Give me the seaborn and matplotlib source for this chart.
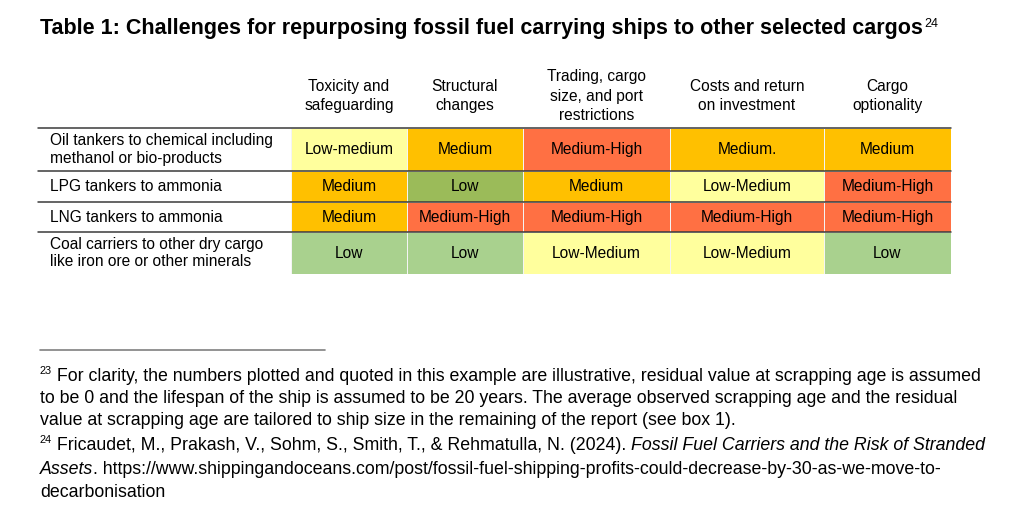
"""
Table 1 of the stranded-assets report, redrawn as a seaborn heatmap:
challenges for repurposing fossil fuel carrying ships to other cargos.
"""

import numpy as np
import seaborn as sns
import matplotlib.pyplot as plt
from matplotlib.colors import ListedColormap
from matplotlib.transforms import blended_transform_factory


TITLE = 'Table 1: Challenges for repurposing fossil fuel carrying ships to other selected cargos'
TITLE_NOTE = '24'

COLUMNS = ['Toxicity and\nsafeguarding', 'Structural\nchanges',
           'Trading, cargo\nsize, and port\nrestrictions',
           'Costs and return\non investment', 'Cargo\noptionality']
ROWS = ['Oil tankers to chemical including\nmethanol or bio-products',
        'LPG tankers to ammonia',
        'LNG tankers to ammonia',
        'Coal carriers to other dry cargo\nlike iron ore or other minerals']
RATINGS = [['Low-medium', 'Medium', 'Medium-High', 'Medium.', 'Medium'],
           ['Medium', 'Low', 'Medium', 'Low-Medium', 'Medium-High'],
           ['Medium', 'Medium-High', 'Medium-High', 'Medium-High', 'Medium-High'],
           ['Low', 'Low', 'Low-Medium', 'Low-Medium', 'Low']]
# shade of each cell: 0 dark green, 1 light green, 2 yellow, 3 amber, 4 orange
SHADES = [[2, 3, 4, 3, 3],
          [3, 0, 3, 2, 4],
          [3, 4, 4, 4, 4],
          [1, 1, 2, 2, 1]]
SHADE_COLORS = ['#9BBB59', '#A9D18E', '#FFFF9D', '#FFC000', '#FF7043']

FOOTNOTES = [
    [('23', 'sup'), (' For clarity, the numbers plotted and quoted in this example are '
                     'illustrative, residual value at scrapping age is assumed', 'normal')],
    [('to be 0 and the lifespan of the ship is assumed to be 20 years. The average '
      'observed scrapping age and the residual', 'normal')],
    [('value at scrapping age are tailored to ship size in the remaining of the '
      'report (see box 1).', 'normal')],
    [('24', 'sup'), (' Fricaudet, M., Prakash, V., Sohm, S., Smith, T., & Rehmatulla, '
                     'N. (2024). ', 'normal'),
     ('Fossil Fuel Carriers and the Risk of Stranded', 'italic')],
    [('Assets', 'italic'), ('. https://www.shippingandoceans.com/post/fossil-fuel-'
                            'shipping-profits-could-decrease-by-30-as-we-move-to-', 'normal')],
    [('decarbonisation', 'normal')],
]

W, H = 1024, 518
FONT = 'Liberation Sans'
SIZE = 11.2


def fx(px):
    return px / W


def fy(py):
    return 1 - py / H


def put_runs(fig, renderer, x, y, runs, size):
    """Writes text pieces one after another on a baseline at pixel y."""
    for text, style in runs:
        kw = dict(fontsize=size, family=FONT, va='baseline', ha='left')
        yy = y
        if style == 'sup':
            kw['fontsize'] = size * 0.62
            yy = y - 7
        elif style == 'italic':
            kw['style'] = 'italic'
        t = fig.text(fx(x), fy(yy), text, **kw)
        x += t.get_window_extent(renderer).width


def main():
    sns.set_theme(style='white')
    plt.rcParams['font.family'] = [FONT, 'DejaVu Sans']
    plt.rcParams['text.color'] = 'black'
    fig = plt.figure(figsize=(W / 100, H / 100), dpi=100)
    renderer = fig.canvas.get_renderer()

    # cell grid in pixels (columns and rows have unequal sizes)
    left, right, top, bottom = 291, 951, 128, 274
    x_edges = np.array([0, 116, 232, 379, 533, 660], dtype=float)
    y_edges = np.array([0, 43, 74, 104, 146], dtype=float)
    ax = fig.add_axes([fx(left), fy(bottom), fx(right - left),
                       (bottom - top) / H])

    sns.heatmap(np.array(SHADES), annot=np.array(RATINGS), fmt='',
                cmap=ListedColormap(SHADE_COLORS), vmin=-0.5, vmax=4.5,
                cbar=False, linewidths=0.4, linecolor='#F4F4F4',
                xticklabels=False, yticklabels=False, ax=ax,
                annot_kws={'color': 'black', 'fontsize': SIZE, 'family': FONT})

    xi = np.arange(len(x_edges), dtype=float)
    yi = np.arange(len(y_edges), dtype=float)
    ax.set_xscale('function', functions=(lambda v: np.interp(v, xi, x_edges),
                                         lambda v: np.interp(v, x_edges, xi)))
    ax.set_yscale('function', functions=(lambda v: np.interp(v, yi, y_edges),
                                         lambda v: np.interp(v, y_edges, yi)))
    ax.set_xlim(0, len(COLUMNS))
    ax.set_ylim(len(ROWS), 0)
    ax.set_xticks([])
    ax.set_yticks([])

    # row labels and row rules
    row_tr = blended_transform_factory(fig.transFigure, ax.transData)
    for i, label in enumerate(ROWS):
        ax.text(fx(50), i + 0.5, label, transform=row_tr, ha='left',
                va='center', fontsize=SIZE, family=FONT, linespacing=1.25)
        ax.plot([fx(38), fx(right)], [i, i], transform=row_tr, color='#3A3A3A',
                lw=1.1, clip_on=False)

    # column headers
    col_tr = blended_transform_factory(ax.transData, fig.transFigure)
    for j, label in enumerate(COLUMNS):
        ax.text(j + 0.5, fy(96), label, transform=col_tr, ha='center',
                va='center', fontsize=SIZE, family=FONT, linespacing=1.4)

    # title with note marker
    t = fig.text(fx(40), fy(34), TITLE, fontsize=15.5, fontweight='bold',
                 family=FONT, va='baseline')
    tw = t.get_window_extent(renderer).width
    fig.text(fx(40 + tw + 1), fy(27), TITLE_NOTE, fontsize=9, family=FONT,
             va='baseline')

    # footnote rule and notes
    fig.add_artist(plt.Line2D([fx(40), fx(325)], [fy(350), fy(350)],
                              color='#808080', lw=1.2))
    baselines = [381, 403, 425, 450, 474, 497]
    for runs, base in zip(FOOTNOTES, baselines):
        put_runs(fig, renderer, 40, base, runs, 12.75)

    fig.savefig('out.png', dpi=100, facecolor='white')


if __name__ == '__main__':
    main()
